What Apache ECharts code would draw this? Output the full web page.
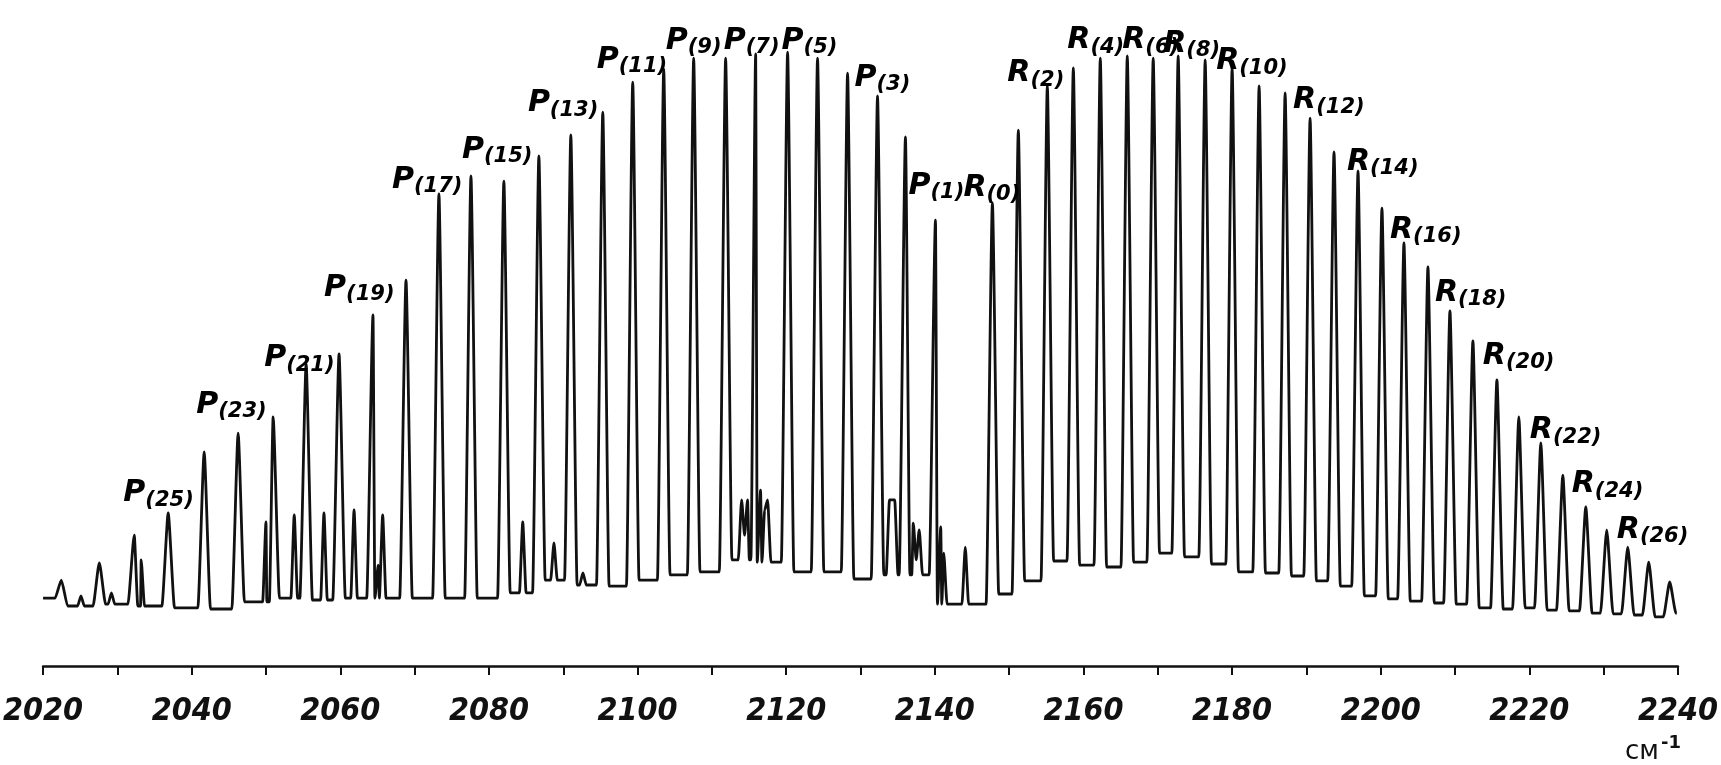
<!DOCTYPE html>
<html>
<head>
<meta charset="utf-8">
<script src="https://cdn.jsdelivr.net/npm/echarts@6/dist/echarts.min.js"></script>
<style>
  html, body { margin: 0; padding: 0; background: #fff; }
  #chart { width: 1721px; height: 765px; }
</style>
</head>
<body>
<div id="chart"></div>
<script>
// main rotational lines, wavenumber (cm-1) and height
const peakWn = [2022.46, 2027.57, 2032.27, 2036.84, 2041.68, 2046.25, 2050.96, 2055.40, 2059.83, 2064.40,
  2068.84, 2073.27, 2077.58, 2082.01, 2086.72, 2091.02, 2095.32, 2099.35, 2103.52, 2107.55,
  2111.85, 2115.89, 2120.19, 2124.22, 2128.26, 2132.29, 2136.05, 2140.09,
  2147.75, 2151.24, 2155.14, 2158.64, 2162.27, 2165.90, 2169.39, 2172.75, 2176.38, 2180.01,
  2183.64, 2187.14, 2190.50, 2193.72, 2196.95, 2200.17, 2203.13, 2206.36, 2209.32, 2212.41,
  2215.64, 2218.59, 2221.55, 2224.51, 2227.60, 2230.42, 2233.25, 2236.07, 2238.89];
const peakH = [14.3, 17.2, 21.8, 25.5, 35.7, 38.8, 41.5, 50.3, 52.0, 58.5,
  64.3, 78.7, 81.7, 80.8, 85.0, 88.5, 92.3, 97.3, 99.5, 101.3,
  101.3, 102.0, 102.3, 101.3, 98.8, 95.0, 88.2, 74.3,
  77.2, 89.3, 96.7, 99.7, 101.3, 101.7, 101.3, 101.7, 101.0, 99.7,
  96.7, 95.5, 91.3, 85.7, 82.5, 76.3, 70.5, 66.5, 59.2, 54.2,
  47.7, 41.5, 37.2, 31.8, 26.5, 22.7, 19.8, 17.3, 14.0];
// trough level between each pair of neighbouring lines
const valleyH = [10.0, 10.3, 10.0, 9.7, 9.5, 10.7, 11.3, 11.0, 11.3, 11.3,
  11.3, 11.3, 11.3, 12.2, 14.3, 13.5, 13.3, 14.3, 15.2, 15.7,
  17.7, 17.3, 15.7, 15.7, 14.5, 15.2, 15.2, 10.3,
  12.0, 14.2, 17.5, 16.8, 16.5, 17.3, 18.8, 18.2, 17.0, 15.7,
  15.5, 15.0, 14.2, 13.3, 11.7, 11.2, 10.8, 10.5, 10.3, 9.7,
  9.5, 9.7, 9.3, 9.2, 8.8, 8.7, 8.5, 8.2];
const traceStart = [2020.0, 11.3];
const traceEnd = [2239.85, 8.8];
// small satellite bumps and shoulders
const sideWn = [2025.1, 2029.2, 2033.2, 2050.0, 2053.8, 2057.8, 2061.85, 2065.1, 2065.7,
  2084.55, 2088.75, 2092.65, 2114.0, 2114.4, 2114.8, 2116.55, 2117.1, 2117.5,
  2133.9, 2134.6, 2137.1, 2137.5, 2137.9, 2140.8, 2141.2, 2144.1];
const sideH = [11.7, 12.2, 17.7, 24.0, 25.2, 25.5, 26.0, 16.8, 25.2,
  24.0, 20.5, 15.5, 27.7, 21.8, 27.7, 29.3, 26.0, 27.7,
  27.7, 27.7, 23.8, 17.7, 22.7, 23.2, 18.8, 19.8];

// branch labels: text and anchor (left edge, middle)
const labelText = ['P(25)', 'P(23)', 'P(21)', 'P(19)', 'P(17)', 'P(15)', 'P(13)', 'P(11)', 'P(9)', 'P(7)', 'P(5)', 'P(3)', 'P(1)',
  'R(0)', 'R(2)', 'R(4)', 'R(6)', 'R(8)', 'R(10)', 'R(12)', 'R(14)', 'R(16)', 'R(18)', 'R(20)', 'R(22)', 'R(24)', 'R(26)'];
const labelWn = [2030.80, 2040.61, 2049.75, 2057.82, 2066.96, 2076.37, 2085.24, 2094.51, 2103.79, 2111.59, 2119.38, 2129.19, 2136.46,
  2143.85, 2149.76, 2157.83, 2165.22, 2170.74, 2177.86, 2188.21, 2195.47, 2201.25, 2207.30, 2213.75, 2220.07, 2225.71, 2231.77];
const labelH = [28.8, 43.5, 51.3, 63.0, 81.0, 86.0, 93.8, 101.0, 104.2, 104.2, 104.2, 98.0, 80.0,
  79.7, 98.8, 104.3, 104.3, 103.7, 100.8, 94.3, 84.0, 72.7, 62.2, 51.7, 39.3, 30.3, 22.7];

const xMin = 2020, xMax = 2240;
const gap = 0.85;     // half width of a main line's foot
const sideGap = 0.45; // half width of a satellite's foot

// trough level at a given wavenumber
function troughAt(x) {
  if (x < peakWn[0]) return traceStart[1];
  for (let i = 0; i < peakWn.length - 1; i++) {
    if (x < peakWn[i + 1]) return valleyH[i];
  }
  return traceEnd[1];
}

// build the trace: trough, line top, trough ...
let pts = [traceStart, [peakWn[0] - gap, traceStart[1]]];
for (let i = 0; i < peakWn.length; i++) {
  if (i > 0) {
    pts.push([peakWn[i - 1] + gap, valleyH[i - 1]]);
    pts.push([peakWn[i] - gap, valleyH[i - 1]]);
  }
  pts.push([peakWn[i], peakH[i]]);
}
pts.push([peakWn[peakWn.length - 1] + gap, traceEnd[1]]);
pts.push(traceEnd);
for (let i = 0; i < sideWn.length; i++) {
  const x = sideWn[i];
  if (i === 0 || x - sideWn[i - 1] > 0.7) pts.push([x - sideGap, troughAt(x)]);
  pts.push([x, sideH[i]]);
  if (i === sideWn.length - 1 || sideWn[i + 1] - x > 0.7) pts.push([x + sideGap, troughAt(x)]);
}
pts.sort((a, b) => a[0] - b[0]);

const labelData = labelText.map((t, i) => {
  const m = t.match(/^(\w)(\(.*\))$/);
  return { value: [labelWn[i], labelH[i]], name: '{a|' + m[1] + '}{b|' + m[2] + '}' };
});

const chart = echarts.init(document.getElementById('chart'));
const fontTxt = "'DejaVu Sans', 'Liberation Sans', sans-serif";
chart.setOption({
  animation: false,
  backgroundColor: '#ffffff',
  grid: { left: 42, right: 43, top: 36, bottom: 99 },
  xAxis: {
    type: 'value', min: xMin, max: xMax, interval: 10,
    axisLine: { lineStyle: { color: '#111', width: 2.5 } },
    axisTick: { show: true, length: 9, lineStyle: { color: '#111', width: 2 } },
    splitLine: { show: false },
    axisLabel: {
      margin: 30,
      color: '#111',
      fontSize: 32,
      fontStyle: 'italic',
      fontWeight: 'bold',
      fontFamily: "'Liberation Sans Narrow', 'DejaVu Sans Condensed', 'Liberation Sans', sans-serif",
      formatter: v => (v % 20 === 0 ? String(v) : '')
    }
  },
  yAxis: { type: 'value', min: 0, max: 105, show: false },
  series: [
    {
      type: 'line',
      data: pts,
      showSymbol: false,
      smooth: 0.2,
      smoothMonotone: 'x',
      lineStyle: { color: '#111', width: 2.8 },
      z: 2
    },
    {
      type: 'scatter',
      data: labelData,
      symbolSize: 0,
      clip: false,
      itemStyle: { opacity: 1, color: '#000' },
      label: {
        show: true,
        position: 'right',
        distance: 0,
        color: '#000',
        formatter: p => p.name,
        rich: {
          a: { fontSize: 30, fontStyle: 'italic', fontWeight: 'bold', color: '#000', fontFamily: fontTxt },
          b: { fontSize: 21, fontStyle: 'italic', fontWeight: 'bold', color: '#000', fontFamily: fontTxt, padding: [14, 0, 0, 0] }
        }
      },
      z: 3
    }
  ],
  graphic: [
    {
      type: 'text', left: 1625, top: 734,
      style: {
        text: '{m|см}{s|-1}',
        rich: {
          m: { fontSize: 26, fontFamily: fontTxt, fill: '#111', padding: [8, 0, 0, 0] },
          s: { fontSize: 18, fontFamily: fontTxt, fill: '#111', fontWeight: 'bold', padding: [0, 0, 10, 2] }
        }
      }
    }
  ]
});
</script>
</body>
</html>
